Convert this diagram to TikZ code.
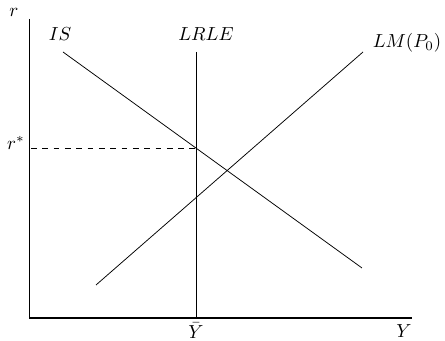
\documentclass[tikz,border=0pt]{standalone}
\usepackage{amsmath}
\usepackage{tikz}
\usetikzlibrary{positioning}

\tikzset{
  axisline/.style={semithick, line join=miter},
  curveline/.style={thin},
  guideline/.style={thin, dashed},
  curvelabel/.style={inner sep=1pt}
}

\begin{document}
\begin{tikzpicture}[x=0.53pt, y=-0.53pt]
  \useasboundingbox (0,0) rectangle (445,341);

  % Axes
  \coordinate (origin) at (29.5,318);
  \coordinate (ytop) at (29.5,19);
  \coordinate (xend) at (412,318);
  \draw[axisline] (ytop) -- (origin) -- (xend);
  \node[curvelabel] (rlbl) at (14,12) {$r$};
  \node[curvelabel] (ylbl) at (404,331) {$Y$};

  % Curve end points
  \coordinate (isstart) at (63,52);
  \coordinate (isend) at (362,268);
  \coordinate (lmstart) at (96,285);
  \coordinate (lmend) at (363,52);
  \coordinate (lrtop) at (196,52);
  \coordinate (lrbot) at (196,318);

  % IS, LM and LRLE curves
  \draw[curveline] (isstart) -- (isend);
  \draw[curveline] (lmstart) -- (lmend);
  \draw[curveline] (lrtop) -- (lrbot);

  % Curve labels
  \node[curvelabel] (islbl) at (60,34) {$IS$};
  \node[curvelabel] (lrlbl) at (206,34) {$LRLE$};
  \node[curvelabel] (lmlbl) at (407,43) {$LM(P_0)$};
  \node[curvelabel] (ybarlbl) at (196,331) {$\bar{Y}$};

  % Equilibrium rate
  \coordinate (rstart) at (31,148);
  \coordinate (rend) at (196,148);
  \draw[guideline] (rstart) -- (rend);
  \node[curvelabel] (rstarlbl) at (16,143) {$r^{*}$};
\end{tikzpicture}
\end{document}
